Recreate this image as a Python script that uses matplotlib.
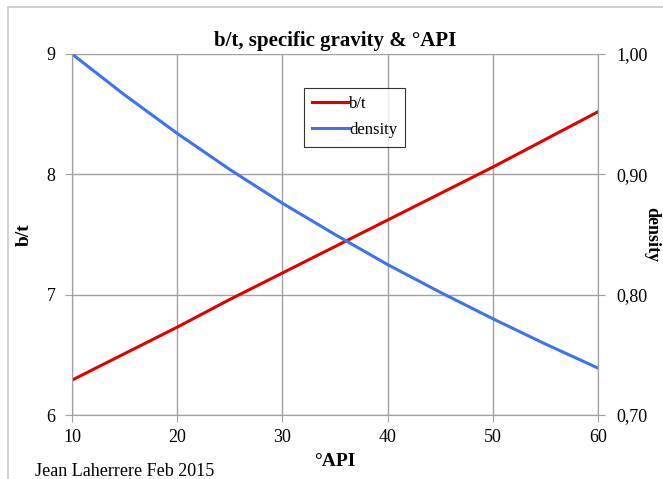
import matplotlib.pyplot as plt
from matplotlib.patches import Rectangle

plt.rcParams['font.family'] = ['Liberation Serif', 'DejaVu Serif']

api = [10, 15, 20, 25, 30, 35, 40, 45, 50, 55, 60]
bt = [6.29, 6.51, 6.73, 6.96, 7.18, 7.40, 7.62, 7.84, 8.06, 8.29, 8.52]
density = [1.000, 0.966, 0.934, 0.904, 0.876, 0.850, 0.825, 0.802, 0.780, 0.759, 0.739]

fig = plt.figure(figsize=(6.63, 4.79), dpi=100)
ax = fig.add_axes([72 / 663, 1 - 415 / 479, 526 / 663, 361 / 479])
ax2 = ax.twinx()

l1, = ax.plot(api, bt, color='#e00000', lw=2.2, label='b/t')
l2, = ax2.plot(api, density, color='#3f73e8', lw=2.2, label='density')

ax.set_xlim(10, 60)
ax.set_ylim(6, 9)
ax2.set_ylim(0.70, 1.00)
ax.set_xticks([10, 20, 30, 40, 50, 60])
ax.set_yticks([6, 7, 8, 9])
ax2.set_yticks([0.70, 0.80, 0.90, 1.00])
ax2.set_yticklabels(['0,70', '0,80', '0,90', '1,00'])
ax.grid(color='#a0a0a0', lw=1)

for a in (ax, ax2):
    for s in a.spines.values():
        s.set_color('#a0a0a0')
    a.spines['top'].set_visible(False)
    a.tick_params(colors='#a0a0a0', labelcolor='black', labelsize=13, length=5)
ax.tick_params(axis='x', pad=5)
ax.tick_params(axis='y', pad=7)
ax2.tick_params(axis='y', pad=8)

ax.set_title('b/t, specific gravity & °API', fontsize=15, fontweight='bold', pad=6)
ax.set_xlabel('°API', fontsize=14, fontweight='bold', labelpad=5)
ax.set_ylabel('b/t', fontsize=14, fontweight='bold', labelpad=10)
ax2.set_ylabel('density', fontsize=13, fontweight='bold', rotation=270, labelpad=9)

leg = ax.legend([l1, l2], ['b/t', 'density'], loc='upper left',
                bbox_to_anchor=(0.441, 0.906), fontsize=12, frameon=True,
                fancybox=False, handlelength=2.2, handletextpad=0.0,
                borderpad=0.5, labelspacing=0.6, borderaxespad=0)
leg.get_frame().set_edgecolor('black')
leg.get_frame().set_linewidth(0.8)

fig.text(35 / 663, 3 / 479, 'Jean Laherrere Feb 2015', fontsize=13)
fig.patches.append(Rectangle((8 / 663, -0.1), 1.2, 1.1 - 7 / 479,
                             transform=fig.transFigure, fill=False,
                             edgecolor='#c8c8c8', lw=1.2))

fig.savefig('out.png', dpi=100)
